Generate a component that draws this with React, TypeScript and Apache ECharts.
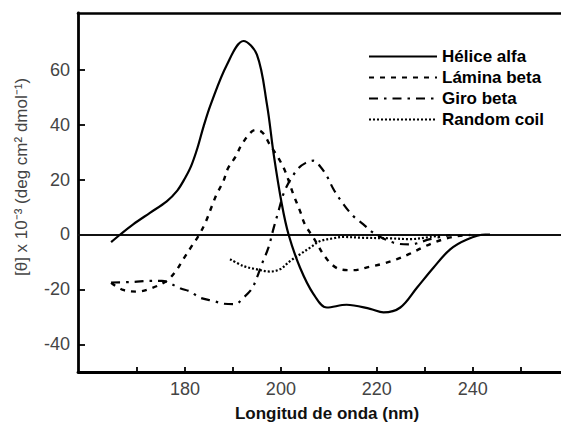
import React, { useEffect, useRef } from "react";
import * as echarts from "echarts";

const FONT = "'Liberation Sans', Arial, sans-serif";

const xTicks = [170, 180, 190, 200, 210, 220, 230, 240, 250];
const xLabels = [180, 200, 220, 240];
const yTicks = [-40, -20, 0, 20, 40, 60];

const seriesNames = ["Hélice alfa", "Lámina beta", "Giro beta", "Random coil"];

const heliceAlfa: [number, number][] = [
  [164.6, -2.8], [166.5, 0], [169.2, 3.7], [172.7, 7.9], [176.2, 12.1], [178.4, 16.0],
  [180.0, 20.5], [181.3, 25.0], [182.6, 31.5], [183.9, 39.5], [185.4, 47.5], [188.7, 61.7],
  [192.2, 70.5], [195.0, 65.5], [197.1, 47.3],
  [198.5, 29.2], [200.2, 11.0], [201.6, 0], [204.0, -12.1], [206.8, -21.7], [209.6, -26.6],
  [213.7, -25.6], [218.6, -27.1], [221.4, -28.4], [224.9, -26.6], [228.4, -19.3],
  [231.8, -12.1], [235.3, -5.4], [238.8, -1.8], [242.6, 0], [243.6, 0],
];

const laminaBeta: [number, number][] = [
  [164.6, -17.6], [167.1, -20.2], [170.2, -20.8], [173.1, -19.5], [176.2, -16.9],
  [178.1, -13.3], [179.7, -8.9], [181.2, -4.8], [183.0, 0], [184.4, 4.9], [185.6, 10.3],
  [186.6, 14.6], [188.0, 19.4], [189.0, 24.2], [190.6, 28.5], [191.8, 32.7], [193.9, 37.5],
  [195.0, 38.1], [196.3, 36.9], [197.7, 32.7], [199.5, 27.8], [200.9, 23.0], [202.6, 14.6],
  [204.0, 8.5], [205.0, 3.7], [206.8, -1.2], [209.6, -9.0], [212.4, -12.7], [215.1, -13.0],
  [218.6, -11.7], [221.4, -10.6], [224.2, -9.0], [226.9, -7.0], [229.7, -4.6],
  [232.1, -2.8], [234.6, -1.4], [236.9, -0.6], [239.5, -0.2],
];

const giroBeta: [number, number][] = [
  [164.6, -17.5], [169.2, -17.3], [172.7, -16.9], [175.2, -16.9], [176.5, -17.5],
  [179.0, -19.6], [181.1, -20.8], [183.1, -23.0], [185.9, -24.2], [188.0, -25.2],
  [190.4, -25.4], [192.2, -23.0], [193.9, -19.9], [195.0, -15.7], [196.0, -10.9],
  [197.4, -4.8], [198.5, 2.4], [199.5, 8.5], [200.6, 15.1], [202.0, 20.0], [203.7, 24.2],
  [205.1, 26.0], [206.8, 26.9], [208.2, 24.8], [209.6, 21.2], [211.0, 16.4], [213.1, 10.9],
  [215.1, 6.7], [217.2, 3.7], [219.3, 0.6], [223.5, -3.0], [226.9, -3.6], [231.1, -1.7],
  [235.3, -0.2],
];

const randomCoil: [number, number][] = [
  [189.4, -9.0], [192.2, -11.5], [195.0, -12.7], [197.7, -13.5], [199.8, -12.7],
  [201.9, -9.7], [204.0, -7.2], [206.1, -4.8], [208.2, -2.4], [210.9, -1.4], [213.0, -0.9],
  [217.2, -1.2], [222.8, -1.4], [226.9, -1.7], [231.1, -0.9], [233.2, -0.4],
];

export default function App() {
  const ref = useRef<HTMLDivElement>(null);
  useEffect(() => {
    if (!ref.current) return;
    const chart = echarts.init(ref.current, undefined, { renderer: "svg" });
    const lineSeries = (name: string, data: [number, number][], type: any, width: number) => ({
      name,
      type: "line",
      data,
      smooth: 0.35,
      symbol: "none",
      lineStyle: { color: "#000", width, type },
      itemStyle: { color: "#000" },
      z: 3,
    });
    const s0: any = lineSeries(seriesNames[0], heliceAlfa, "solid", 2.2);
    s0.markLine = {
      silent: true,
      symbol: ["none", "none"],
      label: { show: false },
      lineStyle: { color: "#111", width: 2, type: "solid" },
      data: [{ yAxis: 0 }],
      z: 2,
    };
    chart.setOption({
      animation: false,
      grid: { left: 78, right: 0, top: 13, bottom: 51, show: false },
      legend: {
        orient: "vertical",
        left: 368,
        top: 48,
        padding: 0,
        itemWidth: 68,
        itemHeight: 14,
        itemGap: 4,
        itemStyle: { opacity: 0, borderWidth: 0 },
        textStyle: { fontSize: 17, fontWeight: "bold", color: "#000", fontFamily: FONT, lineHeight: 17 },
        data: seriesNames,
      },
      xAxis: [
        {
          type: "value",
          min: 157.7,
          max: 258.4,
          axisLine: { show: true, onZero: false, lineStyle: { color: "#000", width: 2.8 } },
          axisTick: { show: true, inside: true, length: 5, customValues: xTicks, lineStyle: { color: "#000", width: 1.8 } },
          axisLabel: { show: true, customValues: xLabels, margin: 8, fontSize: 18, color: "#444", fontFamily: FONT },
          splitLine: { show: false },
        },
        {
          type: "value",
          position: "top",
          min: 157.7,
          max: 258.4,
          axisLine: { show: true, onZero: false, lineStyle: { color: "#000", width: 2.6 } },
          axisTick: { show: false },
          axisLabel: { show: false },
          splitLine: { show: false },
        },
      ],
      yAxis: {
        type: "value",
        min: -50.1,
        max: 80.7,
        axisLine: { show: true, onZero: false, lineStyle: { color: "#000", width: 2.8 } },
        axisTick: { show: true, inside: true, length: 7, customValues: yTicks, lineStyle: { color: "#000", width: 1.8 } },
        axisLabel: { show: true, customValues: yTicks, margin: 8, fontSize: 18, color: "#444", fontFamily: FONT },
        splitLine: { show: false },
      },
      graphic: [
        {
          type: "text",
          x: 21,
          y: 177,
          rotation: Math.PI / 2,
          style: {
            text: "[θ] x 10⁻³ (deg cm² dmol⁻¹)",
            align: "center",
            verticalAlign: "middle",
            fontSize: 17,
            fill: "#444",
            fontFamily: FONT,
          },
        },
        {
          type: "text",
          x: 327,
          y: 413,
          style: {
            text: "Longitud de onda (nm)",
            align: "center",
            verticalAlign: "middle",
            fontSize: 17,
            fontWeight: "bold",
            fill: "#111",
            fontFamily: FONT,
          },
        },
      ],
      series: [
        s0,
        lineSeries(seriesNames[1], laminaBeta, [5, 6], 2.4),
        lineSeries(seriesNames[2], giroBeta, [9, 6, 2.5, 6], 2.2),
        lineSeries(seriesNames[3], randomCoil, [2, 2], 2.2),
      ],
    });
    return () => chart.dispose();
  }, []);
  return (
    <div
      ref={ref}
      style={{ position: "fixed", left: 0, top: 0, width: 561, height: 423, background: "#fff" }}
    />
  );
}
